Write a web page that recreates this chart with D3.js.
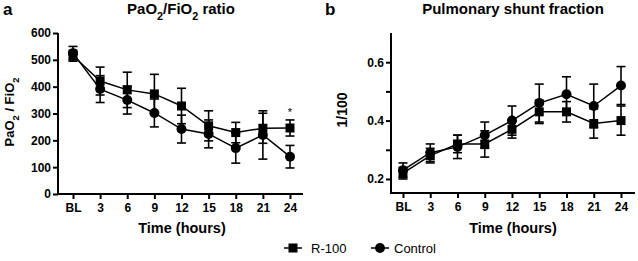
<!DOCTYPE html>
<html>
<head>
<style>
  body { margin: 0; background: #fff; }
  svg { font-family: "Liberation Sans", Arial, sans-serif; }
  .tick text { font-weight: bold; font-size: 12px; fill: #000; }
  .tick line { stroke: #000; stroke-width: 2px; }
  .axisline { stroke: #000; stroke-width: 2px; }
  .series { fill: none; stroke: #000; stroke-width: 1.5px; }
  .err { stroke: #000; stroke-width: 1.6px; }
</style>
</head>
<body>
<svg id="chart" width="638" height="261"></svg>
<script src="https://d3js.org/d3.v7.min.js"></script>
<script>
// categories (hours)
const times = ["BL", "3", "6", "9", "12", "15", "18", "21", "24"]

// panel a: PaO2/FiO2 ratio (mean, SD)
const pfR100 = [515, 421, 388, 373, 328, 254, 229, 245, 246]
const pfR100Sd = [20, 52, 66, 73, 66, 56, 38, 56, 30]
const pfControl = [525, 391, 350, 302, 242, 224, 171, 220, 139]
const pfControlSd = [25, 50, 52, 52, 52, 52, 56, 90, 42]

// panel b: pulmonary shunt fraction (mean, SD)
const shR100 = [0.22, 0.28, 0.32, 0.32, 0.37, 0.43, 0.43, 0.39, 0.40]
const shR100Sd = [0.02, 0.025, 0.03, 0.045, 0.03, 0.04, 0.035, 0.05, 0.05]
const shControl = [0.23, 0.29, 0.31, 0.35, 0.40, 0.46, 0.49, 0.45, 0.52]
const shControlSd = [0.025, 0.03, 0.04, 0.045, 0.05, 0.065, 0.06, 0.075, 0.065]

const svg = d3.select("#chart")

function panel(opt) {
    let g = svg.append("g")
    let x = d3.scalePoint().domain(times).range(opt.xr)
    let y = d3.scaleLinear().domain(opt.yd).range([opt.y0, opt.y1])

    // y axis
    let ya = g.append("g")
        .attr("transform", "translate(" + opt.ax + ",0)")
        .call(d3.axisLeft(y).tickValues(opt.yt).tickFormat(opt.yf).tickSize(5).tickSizeOuter(0).tickPadding(2))
    ya.select(".domain").remove()
    g.append("line").attr("class", "axisline")
        .attr("x1", opt.ax).attr("x2", opt.ax)
        .attr("y1", y(opt.yd[1])).attr("y2", y(opt.yd[0]) + 1)

    // x axis
    let xa = g.append("g")
        .attr("transform", "translate(0," + y(opt.yd[0]) + ")")
        .call(d3.axisBottom(x).tickSize(5).tickSizeOuter(0).tickPadding(4))
    xa.select(".domain").remove()
    g.append("line").attr("class", "axisline")
        .attr("x1", opt.ax - 1).attr("x2", opt.xEnd)
        .attr("y1", y(opt.yd[0])).attr("y2", y(opt.yd[0]))

    let line = d3.line().x((d, i) => x(times[i])).y(d => y(d))

    opt.series.forEach(s => {
        // error bars
        s.v.forEach((v, i) => {
            let cx = x(times[i])
            let lo = y(v - s.sd[i]), hi = y(v + s.sd[i])
            g.append("line").attr("class", "err")
                .attr("x1", cx).attr("x2", cx).attr("y1", lo).attr("y2", hi)
            g.append("line").attr("class", "err")
                .attr("x1", cx - 4.5).attr("x2", cx + 4.5).attr("y1", lo).attr("y2", lo)
            g.append("line").attr("class", "err")
                .attr("x1", cx - 4.5).attr("x2", cx + 4.5).attr("y1", hi).attr("y2", hi)
        })
        g.append("path").datum(s.v).attr("class", "series").attr("d", line)
        s.v.forEach((v, i) => marker(g, s.shape, x(times[i]), y(v)))
    })

    // panel letter and title
    g.append("text").attr("x", opt.letterX).attr("y", 15)
        .style("font-size", "17px").style("font-weight", "bold").text(opt.letter)
    let t = g.append("text").attr("x", opt.titleX).attr("y", 14)
        .attr("text-anchor", "middle").style("font-size", "15px").style("font-weight", "bold")
    opt.title(t)

    // axis titles
    g.append("text").attr("x", opt.xtX).attr("y", 233)
        .attr("text-anchor", "middle").style("font-size", "14.5px").style("font-weight", "bold")
        .text("Time (hours)")
    let yl = g.append("text")
        .attr("transform", "translate(" + opt.ylX + "," + opt.ylY + ") rotate(-90)")
        .attr("text-anchor", "middle").style("font-size", opt.ylSize).style("font-weight", "bold")
    opt.ylabel(yl)
    return {x, y, g}
}

function marker(g, shape, cx, cy) {
    if (shape == "square") {
        g.append("rect").attr("x", cx - 4.5).attr("y", cy - 4.5)
            .attr("width", 9).attr("height", 9).attr("fill", "#000")
    } else {
        g.append("circle").attr("cx", cx).attr("cy", cy).attr("r", 5).attr("fill", "#000")
    }
}

function sub(t, parts) {
    parts.forEach(p => {
        let ts = t.append("tspan").text(p[0])
        if (p[1]) ts.attr("baseline-shift", "sub").style("font-size", "0.72em")
    })
}

// panel a
let pa = panel({
    xr: [73, 290], ax: 58, xEnd: 303, y0: 194, y1: 33, yd: [0, 600],
    yt: [0, 100, 200, 300, 400, 500, 600], yf: d3.format("d"),
    series: [
        {v: pfR100, sd: pfR100Sd, shape: "square"},
        {v: pfControl, sd: pfControlSd, shape: "circle"}
    ],
    letter: "a", letterX: 3, titleX: 181, xtX: 182,
    title: t => sub(t, [["PaO"], ["2", 1], ["/FiO"], ["2", 1], [" ratio"]]),
    ylX: 14, ylY: 112, ylSize: "13px",
    ylabel: t => sub(t, [["PaO"], ["2", 1], [" / FiO"], ["2", 1]])
})
// significance mark at 24 h
pa.g.append("text").attr("x", pa.x("24")).attr("y", pa.y(pfR100[8] + pfR100Sd[8]) - 4)
    .attr("text-anchor", "middle").style("font-size", "11px").text("*")

// panel b
panel({
    xr: [403, 621], ax: 391, xEnd: 635, y0: 193, y1: 33, yd: [0.152, 0.7],
    yt: [0.2, 0.3, 0.4, 0.5, 0.6], yf: d => (Math.round(d * 10) % 2 == 0 ? d3.format(".1f")(d) : ""),
    series: [
        {v: shR100, sd: shR100Sd, shape: "square"},
        {v: shControl, sd: shControlSd, shape: "circle"}
    ],
    letter: "b", letterX: 325, titleX: 513, xtX: 513,
    title: t => t.text("Pulmonary shunt fraction"),
    ylX: 347, ylY: 110, ylSize: "14px",
    ylabel: t => t.text("1/100")
})

// legend
let lg = svg.append("g").attr("transform", "translate(0,248)")
lg.append("line").attr("class", "series").attr("x1", 284).attr("x2", 302).attr("y1", 0).attr("y2", 0)
marker(lg, "square", 293, 0)
lg.append("text").attr("x", 311).attr("y", 5).style("font-size", "13px").text("R-100")
lg.append("line").attr("class", "series").attr("x1", 371).attr("x2", 389).attr("y1", 0).attr("y2", 0)
marker(lg, "circle", 380, 0)
lg.append("text").attr("x", 394).attr("y", 5).style("font-size", "13px").text("Control")
</script>
</body>
</html>
